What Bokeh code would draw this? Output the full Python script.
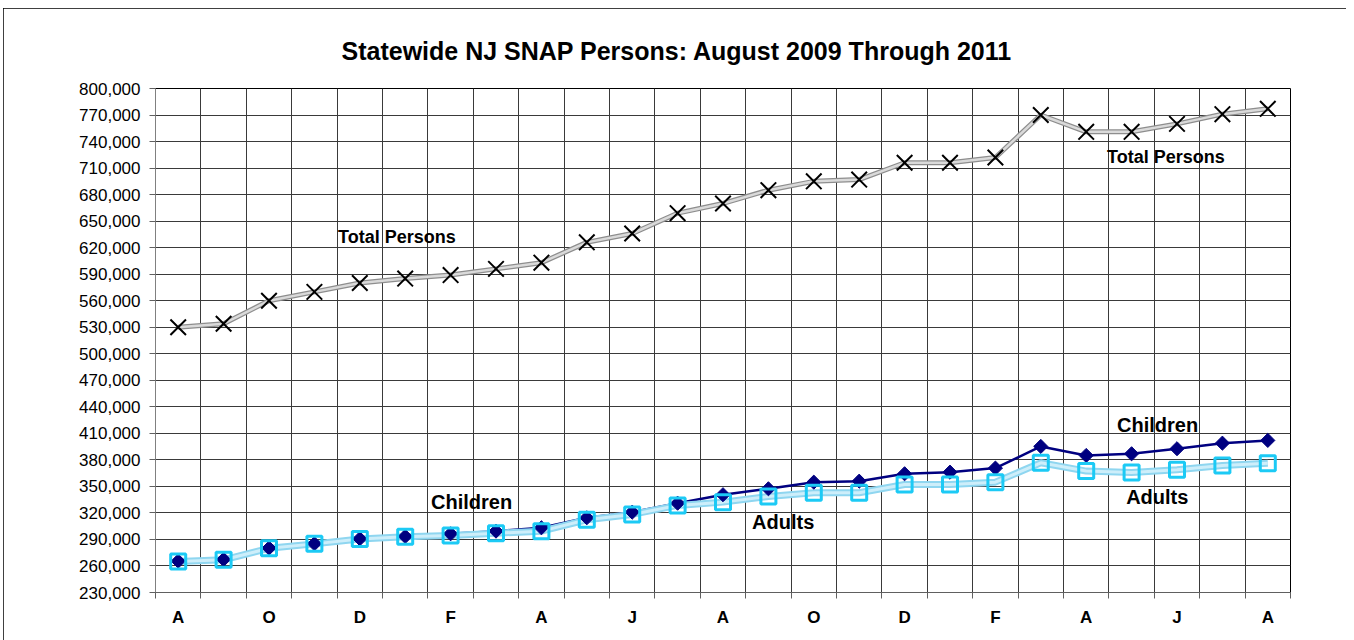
from bokeh.plotting import figure
from bokeh.models import FixedTicker, NumeralTickFormatter, Label
from bokeh.embed import file_html
from bokeh.resources import INLINE

# ---- data (Aug 2009 .. Aug 2011) ----
month_initials = ["A", "S", "O", "N", "D", "J", "F", "M", "A", "M", "J", "J",
                  "A", "S", "O", "N", "D", "J", "F", "M", "A", "M", "J", "J", "A"]
total_persons = [530000, 534000, 560000, 570000, 580000, 585000, 589000, 596000,
                 603000, 626000, 636000, 659000, 670000, 685000, 695000, 697000,
                 716000, 716000, 722000, 770000, 751000, 751000, 760000, 771000, 777000]
children = [265500, 267400, 280200, 285100, 290800, 293400, 296400, 299400,
            303200, 314500, 320900, 331000, 340600, 347300, 354800, 355900,
            364300, 366100, 370700, 395200, 385000, 386900, 392600, 398900, 402000]
adults = [265000, 267000, 280000, 285000, 290500, 293000, 294500, 297000,
          299400, 312200, 318300, 328500, 332200, 338600, 342800, 342800,
          352200, 352200, 354800, 376700, 367300, 365800, 368800, 373700, 376300]
y_ticks = list(range(230000, 800001, 30000))

x = list(range(len(month_initials)))
FONT = "Liberation Sans"

p = figure(width=1343, height=632, x_range=(-0.5, len(x) - 0.5), y_range=(230000, 800000),
           output_backend="svg", toolbar_location=None,
           min_border_left=152, min_border_right=56, min_border_top=80, min_border_bottom=48)
p.styles = {"outline": "2px solid black", "outline-offset": "-2px",
            "margin-left": "3px", "margin-top": "8px",
            "width": "1343px", "height": "632px"}
p.background_fill_color = "white"
p.border_fill_color = "white"
p.outline_line_color = "black"
p.outline_line_width = 1

p.title.text = "Statewide NJ SNAP Persons: August 2009 Through 2011"
p.title.text_font = FONT
p.title.text_font_size = "25px"
p.title.text_font_style = "bold"
p.title.text_color = "black"
p.title.align = "left"
p.title.offset = 186
p.title.standoff = 48

# y axis
p.yaxis.ticker = FixedTicker(ticks=y_ticks)
p.yaxis.formatter = NumeralTickFormatter(format="0,0")
p.yaxis.major_label_text_font = FONT
p.yaxis.major_label_text_font_size = "17px"
p.yaxis.major_label_text_color = "black"
p.yaxis.major_tick_out = 6
p.yaxis.major_tick_in = 0
p.yaxis.major_tick_line_color = "#606060"
p.yaxis.minor_tick_line_color = None
p.yaxis.axis_line_color = "#808080"
p.yaxis.major_label_standoff = 9

# x axis: labels every other month, ticks at category boundaries
boundaries = [i - 0.5 for i in range(len(x) + 1)]
p.xaxis.ticker = FixedTicker(ticks=x[::2], minor_ticks=boundaries)
p.xaxis.major_label_overrides = {i: month_initials[i] for i in x[::2]}
p.xaxis.major_label_text_font = FONT
p.xaxis.major_label_text_font_size = "17px"
p.xaxis.major_label_text_font_style = "bold"
p.xaxis.major_label_text_color = "black"
p.xaxis.major_tick_line_color = None
p.xaxis.major_tick_out = 0
p.xaxis.major_tick_in = 0
p.xaxis.minor_tick_out = 6
p.xaxis.minor_tick_in = 0
p.xaxis.minor_tick_line_color = "#606060"
p.xaxis.axis_line_color = "#606060"
p.xaxis.major_label_standoff = 9

# grids
p.xgrid.ticker = FixedTicker(ticks=boundaries)
p.xgrid.grid_line_color = "#3a3a3a"
p.xgrid.grid_line_width = 1
p.ygrid.grid_line_color = "#3a3a3a"
p.ygrid.grid_line_width = 1

# Total persons: textured grey line with X markers
p.line(x, total_persons, line_width=5, line_color="#8e8e8e")
p.line(x, total_persons, line_width=2.5, line_color="#dadada")
p.scatter(x, total_persons, marker="x", size=22, line_color="black", line_width=2)

# Children line (navy), Adults line (textured light cyan)
p.line(x, children, line_width=2.5, line_color="#000080")
p.line(x, adults, line_width=7, line_color="#8fd6f0")
p.line(x, adults, line_width=3, line_color="#cdeefa")
p.scatter(x, children, marker="square", angle=0.785398, size=10,
          fill_color="#000080", line_color="#000080")
p.scatter(x, adults, marker="square", size=15, fill_color=None, line_color="#1ccaf5", line_width=3)

# in-chart labels
def add_label(xv, yv, text, size):
    p.add_layout(Label(x=xv, y=yv, text=text, text_font=FONT, text_font_size=size,
                       text_font_style="bold", text_color="black",
                       text_align="left", text_baseline="middle"))

add_label(3.52, 631500, "Total Persons", "18px")
add_label(20.46, 722000, "Total Persons", "18px")
add_label(5.57, 331800, "Children", "20px")
add_label(20.68, 420000, "Children", "20px")
add_label(12.64, 309200, "Adults", "20px")
add_label(20.88, 337500, "Adults", "20px")

open("out.html", "w").write(file_html(p, INLINE))
